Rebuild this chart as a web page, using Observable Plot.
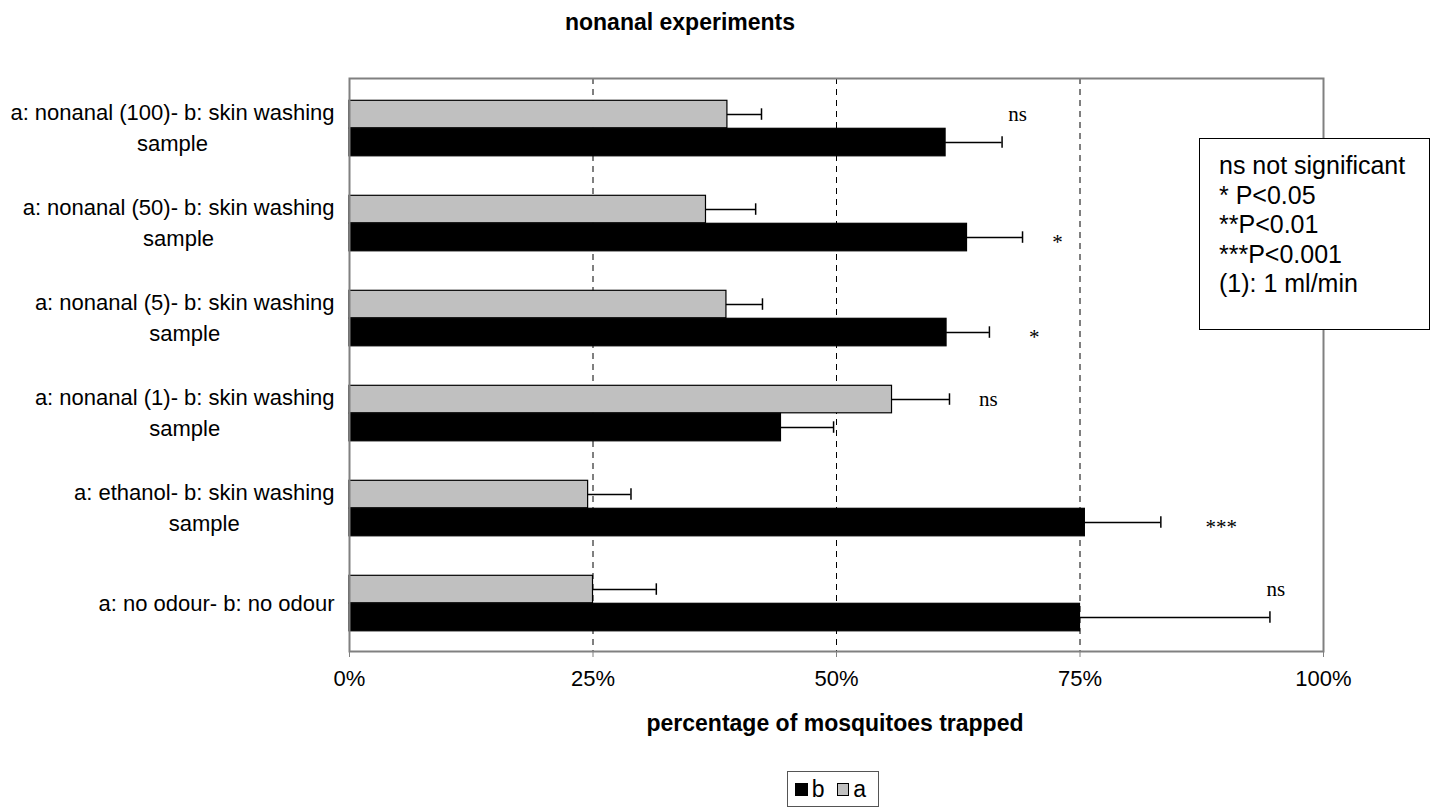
<!DOCTYPE html>
<html>
<head>
<meta charset="utf-8">
<script src="https://cdn.jsdelivr.net/npm/d3@7"></script>
<script src="https://cdn.jsdelivr.net/npm/@observablehq/plot@0.6"></script>
<style>
  body { margin: 0; background: #fff; font-family: "Liberation Sans", Arial, sans-serif; color: #000; }
  #chart { position: relative; width: 1447px; height: 809px; overflow: hidden; }
  #chart svg { position: absolute; left: 0; top: 0; }
  .title { position: absolute; left: 0; width: 1360px; top: 9px; text-align: center; font-weight: bold; font-size: 23px; line-height: 26px; }
  .xlabel { position: absolute; left: 535px; width: 600px; top: 710px; text-align: center; font-weight: bold; font-size: 23px; line-height: 26px; }
  .sig { position: absolute; left: 1199px; top: 138px; width: 231px; height: 192px; box-sizing: border-box;
         border: 1.5px solid #000; background: #fff; padding: 12px 0 0 19px; font-size: 25px; line-height: 29.5px; white-space: pre; }
  .legend { position: absolute; left: 787px; top: 771px; width: 92px; height: 36px; box-sizing: border-box; border: 1px solid #555;
            background: #fff; display: flex; align-items: center; padding: 0 0 0 7px; font-size: 23px; }
  .legend .sw { width: 11px; height: 11px; border: 1px solid #000; display: inline-block; margin-right: 4px; }
  .legend .lab { margin-right: 12px; }
</style>
</head>
<body>
<div id="chart"></div>
<script>
// Choice tests (a vs b), listed top to bottom
const categories = [
  "a: nonanal (100)- b: skin washing\nsample",
  "a: nonanal (50)- b: skin washing\nsample",
  "a: nonanal (5)- b: skin washing\nsample",
  "a: nonanal (1)- b: skin washing\nsample",
  "a: ethanol- b: skin washing\nsample",
  "a: no odour- b: no odour"
];
const seriesNames = ["a", "b"];
// Percentage of mosquitoes trapped, with standard errors
const valuesA = [38.8, 36.6, 38.7, 55.7, 24.5, 25.0];
const errorsA = [3.5, 5.1, 3.7, 5.9, 4.4, 6.5];
const valuesB = [61.2, 63.4, 61.3, 44.3, 75.5, 75.0];
const errorsB = [5.8, 5.7, 4.4, 5.4, 7.8, 19.5];
const xTicks = [0, 25, 50, 75, 100];
// Significance of each test, placed at a percentage next to its bars
const sigLabels = ["ns", "*", "*", "ns", "***", "ns"];
const sigAt = [68.6, 72.7, 70.3, 65.6, 89.5, 95.1];
const sigSeries = ["a", "b", "b", "a", "b", "a"];
const keyLines = ["ns not significant", "* P<0.05", "**P<0.01", "***P<0.001", "(1): 1 ml/min"];

const rows = categories.flatMap((cat, i) => [
  {cat, series: "a", value: valuesA[i], err: errorsA[i]},
  {cat, series: "b", value: valuesB[i], err: errorsB[i]}
]);
const notes = categories.map((cat, i) => ({
  cat, label: sigLabels[i], x: sigAt[i], series: sigSeries[i], star: sigLabels[i].startsWith("*")
}));

// Layout
const W = 1447, H = 700;
const frameLeft = 349, frameRight = 1323, frameTop = 78, frameBottom = 651;
const band = (frameBottom - frameTop) / categories.length;
const barH = 28, firstBarOffset = 20.3, capH = 12;
const labelSize = 22;
const fills = {a: "#c0c0c0", b: "#000000"};

const barTop = (s) => firstBarOffset + seriesNames.indexOf(s) * barH;
const barCenterDy = (s) => barTop(s) + barH / 2 - band / 2;

const ctx = document.createElement("canvas").getContext("2d");
ctx.font = `${labelSize}px "Liberation Sans"`;

const seriesMarks = seriesNames.flatMap((s) => {
  const data = rows.filter((d) => d.series === s);
  const top = barTop(s);
  return [
    Plot.barX(data, {x: "value", y: "cat", fill: fills[s], stroke: "#000", strokeWidth: 1.2,
      insetTop: top, insetBottom: band - top - barH}),
    Plot.ruleY(data, {y: "cat", x1: "value", x2: (d) => d.value + d.err, dy: barCenterDy(s), stroke: "#000", strokeWidth: 1.5}),
    Plot.tickX(data, {x: (d) => d.value + d.err, y: "cat", stroke: "#000", strokeWidth: 1.5,
      insetTop: top + barH / 2 - capH / 2, insetBottom: band - top - barH / 2 - capH / 2})
  ];
});

// Category labels: right edge of the first line aligned, following lines centred under it
const labelMarks = categories.map((cat) => {
  const first = cat.split("\n")[0];
  const w = ctx.measureText(first).width;
  return Plot.text([cat], {y: (d) => d, text: (d) => d, frameAnchor: "left", textAnchor: "middle",
    dx: -(15 + w / 2), dy: -2, lineHeight: 1.41, fontSize: labelSize, fill: "#000"});
});

// Significance marks beside the bars; asterisks sit high in the font, so they are nudged down
const noteMarks = seriesNames.flatMap((s) => [false, true].map((star) =>
  Plot.text(notes.filter((d) => d.series === s && d.star === star), {x: "x", y: "cat", text: "label",
    dy: barCenterDy(s) + (star ? 5 : 0),
    fontFamily: "Liberation Serif, Times New Roman, serif", fontSize: 21, fill: "#000"})
));

const chart = Plot.plot({
  width: W,
  height: H,
  marginLeft: frameLeft,
  marginRight: W - frameRight,
  marginTop: frameTop,
  marginBottom: H - frameBottom,
  style: {fontFamily: "Liberation Sans, Arial, sans-serif", fontSize: `${labelSize}px`, background: "transparent", color: "#000"},
  x: {domain: [0, 100]},
  y: {domain: categories, padding: 0, axis: null},
  marks: [
    Plot.ruleX(xTicks.slice(1, -1), {stroke: "#000", strokeWidth: 1, strokeDasharray: "6,5"}),
    ...seriesMarks,
    ...labelMarks,
    ...noteMarks,
    Plot.frame({stroke: "#808080", strokeWidth: 2}),
    Plot.axisX({ticks: xTicks, tickFormat: (d) => `${d}%`, tickSize: 6, tickPadding: 13, stroke: "#808080", fill: "#000", label: null})
  ]
});

const root = document.getElementById("chart");
root.append(chart);

const title = document.createElement("div");
title.className = "title";
title.textContent = "nonanal experiments";
root.append(title);

const xlabel = document.createElement("div");
xlabel.className = "xlabel";
xlabel.textContent = "percentage of mosquitoes trapped";
root.append(xlabel);

const key = document.createElement("div");
key.className = "sig";
key.textContent = keyLines.join("\n");
root.append(key);

const legend = document.createElement("div");
legend.className = "legend";
for (const s of ["b", "a"]) {
  const sw = document.createElement("span");
  sw.className = "sw";
  sw.style.background = fills[s];
  const t = document.createElement("span");
  t.className = "lab";
  t.textContent = s;
  legend.append(sw, t);
}
root.append(legend);
</script>
</body>
</html>
